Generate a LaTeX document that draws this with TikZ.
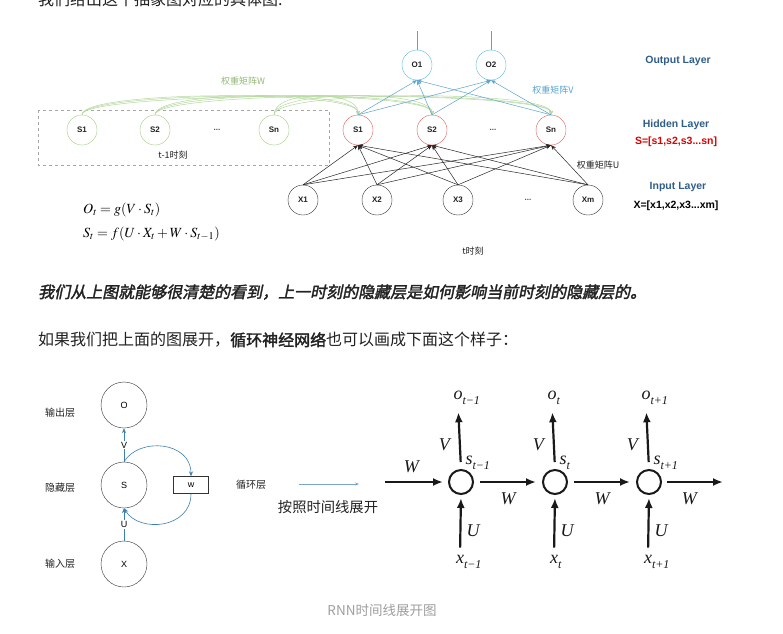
\documentclass[tikz,border=0pt]{standalone}
\usepackage{mathptmx}
\usepackage{fontspec}
\setmainfont{Liberation Serif}
\setsansfont{Liberation Sans}
\newfontfamily\cjk{Noto Sans CJK SC}
\newfontfamily\cjkb{Noto Sans CJK SC}[FakeBold=2]
\newfontfamily\cjkbi{Noto Sans CJK SC}[FakeBold=2,FakeSlant=0.2]
\usetikzlibrary{positioning,arrows.meta,calc}
\definecolor{wgreen}{HTML}{A3CF85}
\definecolor{hred}{HTML}{DE5F5C}
\definecolor{oblue}{HTML}{5BBBE0}
\definecolor{vblue}{HTML}{5AA4D0}
\definecolor{layerblue}{HTML}{2F5E8B}
\definecolor{loopblue}{HTML}{3D80AE}
\definecolor{bodytext}{HTML}{222222}
\newcommand{\sub}[2]{{\itshape #1}\rlap{\raisebox{-5pt}{\fontsize{12}{12}\selectfont\itshape #2}}}
\tikzset{
    neuron/.style={
        circle,
        draw,
        minimum size=30pt,
        inner sep=0pt,
        font=\sffamily\bfseries\fontsize{8}{8}\selectfont,
        text=bodytext
    },
    prevs/.style={neuron, draw=wgreen},
    hids/.style={neuron, draw=hred},
    outs/.style={neuron, draw=oblue},
    ins/.style={neuron, draw=black!80},
    dots/.style={font=\sffamily\bfseries\fontsize{8}{8}\selectfont, text=black!70},
    smallcjk/.style={font=\cjk\fontsize{9}{9}\selectfont},
    layer/.style={font=\sffamily\bfseries\fontsize{10.5}{10.5}\selectfont},
    wline/.style={-{Stealth[length=4pt,width=4pt]}, draw=wgreen!80, line width=0.5pt},
    vline/.style={-{Stealth[length=5pt,width=4pt]}, draw=vblue, line width=0.5pt},
    uline/.style={-{Stealth[length=5pt,width=4pt]}, draw=black!85, line width=0.5pt},
    bignode/.style={circle, draw=black!80, minimum size=46pt, inner sep=0pt, font=\sffamily\fontsize{9}{9}\selectfont},
    wbox/.style={rectangle, draw=black!80, minimum width=35pt, minimum height=17pt, inner sep=0pt, font=\sffamily\fontsize{9}{9}\selectfont},
    looparrow/.style={-{Stealth[length=5pt,width=4pt]}, draw=loopblue, line width=0.6pt},
    sidecjk/.style={font=\cjk\fontsize{10}{10}\selectfont, text=bodytext},
    cell/.style={circle, draw=black!90, line width=2pt, minimum size=24pt, inner sep=0pt},
    bigtip/.style={-{Latex[length=10pt,width=8pt]}, draw=black!90, line width=2.2pt},
    rnnlab/.style={font=\fontsize{18}{18}\selectfont\itshape, text=black!90, inner sep=1pt},
    cellname/.style={font=\fontsize{18}{18}\selectfont, text=black!90, inner sep=0pt, anchor=base}
}
\begin{document}
\begin{tikzpicture}[x=1pt,y=-1pt]
\useasboundingbox (0,0) rectangle (783,633);
\fill[white] (0,0) rectangle (783,633);
\clip (0,0) rectangle (783,633);

% text above the first picture
\node[anchor=base west, inner sep=0pt, text=bodytext, font=\cjk\fontsize{16}{16}\selectfont] (intro) at (38,5.5) {我们给出这个抽象图对应的具体图:};

% t-1 hidden layer
\draw[dashed, draw=gray!70] (38,110) rectangle (329,165);
\node (p1) [prevs] at (82,130) {S1};
\node (p2) [prevs] at (155,130) {S2};
\node (pdots) [dots] at (217,130) {...};
\node (pn) [prevs] at (274,130) {Sn};
\node (tprev) [smallcjk, text=bodytext] at (173,155) {t-1时刻};

% t hidden, output and input layers
\node (h1) [hids] at (358,130) {S1};
\node (h2) [hids] at (432,130) {S2};
\node (hdots) [dots] at (493,130) {...};
\node (hn) [hids] at (551,130) {Sn};
\node (o1) [outs] at (417,65) {O1};
\node (o2) [outs] at (491,65) {O2};
\coordinate (o1top) at (417,31);
\coordinate (o2top) at (491,31);
\node (x1) [ins] at (303,200) {X1};
\node (x2) [ins] at (377,200) {X2};
\node (x3) [ins] at (458,200) {X3};
\node (xdots) [dots] at (528,200) {...};
\node (xm) [ins] at (588,200) {Xm};

\foreach \p in {p1,p2,pn}
  \foreach \h in {h1,h2,hn}
    \draw[wline] (\p.north) .. controls +(0,-25) and +(0,-25) .. (\h.north);
\foreach \h in {h1,h2,hn}
  \foreach \o in {o1,o2}
    \draw[vline] (\h.north) -- (\o.south);
\foreach \x in {x1,x2,x3,xm}
  \foreach \h in {h1,h2,hn}
    \draw[uline] (\x.north) -- (\h.south);
\draw[draw=vblue, line width=0.5pt] (o1.north) -- (o1top);
\draw[draw=vblue, line width=0.5pt] (o2.north) -- (o2top);

\node (wlabel) [smallcjk, text=wgreen!90!black] at (243,81) {权重矩阵W};
\node (vlabel) [smallcjk, text=vblue] at (553,90) {权重矩阵V};
\node (ulabel) [smallcjk, text=bodytext] at (598,165) {权重矩阵U};
\node (tnow) [smallcjk, text=bodytext] at (473,251) {t时刻};

\node (outlayer) [layer, text=layerblue] at (678,61) {Output Layer};
\node (hidlayer) [layer, text=layerblue] at (676,125) {Hidden Layer};
\node (hidvec) [layer, text=red!85!black] at (676,142) {S=[s1,s2,s3...sn]};
\node (inlayer) [layer, text=layerblue] at (678,187) {Input Layer};
\node (invec) [layer, text=black] at (676,206) {X=[x1,x2,x3...xm]};

\node (eqo) [anchor=west, inner sep=0pt, font=\fontsize{14}{14}\selectfont] at (83,210) {$O_t=g(V\cdot S_t)$};
\node (eqs) [anchor=west, inner sep=0pt, font=\fontsize{14}{14}\selectfont] at (83,234) {$S_t=f(U\cdot X_t+W\cdot S_{t-1})$};

% text between the pictures
\node[anchor=west, inner sep=0pt, text=bodytext, font=\cjkbi\fontsize{16}{16}\selectfont] (remark) at (38,292) {我们从上图就能够很清楚的看到，上一时刻的隐藏层是如何影响当前时刻的隐藏层的。};
\node[anchor=west, inner sep=0pt, text=bodytext, font=\cjk\fontsize{16}{16}\selectfont] (unfold) at (38,340) {如果我们把上面的图展开，{\cjkb 循环神经网络}也可以画成下面这个样子：};

% folded network
\node (lo) [bignode] at (124,405) {O};
\node (ls) [bignode] at (124,485) {S};
\node (lx) [bignode] at (124,564) {X};
\node (lw) [wbox] at (191,485) {w};
\node (lout) [sidecjk] at (60,413) {输出层};
\node (lhid) [sidecjk] at (60,488) {隐藏层};
\node (lin) [sidecjk] at (60,564) {输入层};
\node (lloop) [sidecjk] at (251,485) {循环层};
\draw[looparrow] (ls.north) -- node[fill=white, inner sep=1pt, font=\sffamily\fontsize{9}{9}\selectfont] {V} (lo.south);
\draw[looparrow] (lx.north) -- node[fill=white, inner sep=1pt, font=\sffamily\fontsize{9}{9}\selectfont] {U} (ls.south);
\draw[looparrow] (ls.north) .. controls +(15,-25) and +(0,-35) .. (lw.north);
\draw[looparrow] (lw.south) .. controls +(0,35) and +(15,25) .. (ls.south);

\coordinate (ufrom) at (299,484);
\coordinate (uto) at (359,484);
\draw[-{Stealth[length=4pt,width=3pt]}, draw=loopblue!70, line width=0.5pt] (ufrom) -- (uto);
\node (unroll) [font=\cjk\fontsize{14.3}{14.3}\selectfont, text=bodytext] at (328,507) {按照时间线展开};

% unrolled network
\coordinate (win) at (385,482);
\coordinate (wout) at (723,482);
\foreach \n/\x/\t in {1/461/t−1, 2/555/t, 3/649/t+1}{
  \node (c\n) [cell] at (\x,482) {};
  \node (on\n) [cellname] at (\x-3,399) {\sub{o}{\t}};
  \node (xn\n) [cellname] at (\x-1,563) {\sub{x}{\t}};
  \node (sn\n) [cellname] at (\x+8,464) {\sub{s}{\t}};
  \draw[bigtip, shorten <=7pt, shorten >=8pt] (c\n.north) -- node[rnnlab, left=8pt, pos=0.37] {V} (on\n.south);
  \draw[bigtip, shorten <=7pt, shorten >=3pt] (xn\n.north) -- node[rnnlab, right=4pt, pos=0.4] {U} (c\n.south);
}
\draw[bigtip, shorten >=5pt] (win) -- node[rnnlab, above=7pt, pos=0.42] {W} (c1.west);
\draw[bigtip, shorten <=6pt, shorten >=6pt] (c1.east) -- node[rnnlab, below=9pt] {W} (c2.west);
\draw[bigtip, shorten <=6pt, shorten >=6pt] (c2.east) -- node[rnnlab, below=9pt] {W} (c3.west);
\draw[bigtip, shorten <=5pt] (c3.east) -- node[rnnlab, below=9pt, pos=0.45] {W} (wout);

\node (caption) [font=\cjk\fontsize{13.5}{13.5}\selectfont, text=gray!75] at (382,610) {RNN时间线展开图};
\end{tikzpicture}
\end{document}
